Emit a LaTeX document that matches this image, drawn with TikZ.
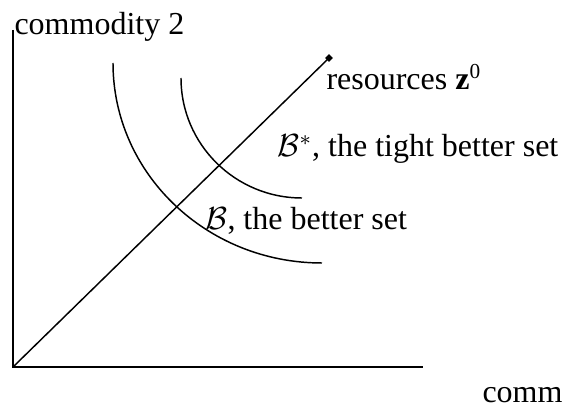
\documentclass[tikz,border=0pt,12pt]{standalone}
\usepackage{fontspec}
\setmainfont{Liberation Serif}
\usepackage{amsmath}
\usetikzlibrary{shapes.geometric}
\tikzset{
  axisline/.style={draw=black, line width=0.7pt},
  setcurve/.style={draw=black, line width=0.55pt},
  raylabel/.style={inner sep=0pt, anchor=base west, font=\fontsize{12}{14}\selectfont},
  endowment/.style={diamond, fill=black, inner sep=0pt, minimum size=3pt},
}

\begin{document}
\begin{tikzpicture}[x=0.375pt, y=0.375pt]
  \useasboundingbox (0,0) rectangle (563,408);

  % axes and the ray to the resources point
  \coordinate (origin) at (13,41);
  \coordinate (ytop) at (13,378);
  \coordinate (xend) at (423,41);
  \node[endowment] (z0) at (329,350) {};
  \draw[axisline] (ytop) -- (origin) -- (xend);
  \draw[setcurve] (origin) -- (z0.center);

  % better sets
  \draw[setcurve] (113,345) arc[start angle=180, end angle=270, x radius=209, y radius=200];
  \draw[setcurve] (181,330) arc[start angle=180, end angle=270, x radius=121, y radius=120];

  % labels
  \node[raylabel] (ylab) at (14,373) {commodity 2};
  \node[raylabel] (xlab) at (482,5) {commodity 1};
  \node[raylabel] (zlab) at (326,318) {resources \textbf{z}\textsuperscript{0}};
  \node[raylabel] (tightlab) at (277,251) {$\mathcal{B}^{*}$, the tight better set};
  \node[raylabel] (betterlab) at (205,178) {$\mathcal{B}$, the better set};
\end{tikzpicture}
\end{document}
